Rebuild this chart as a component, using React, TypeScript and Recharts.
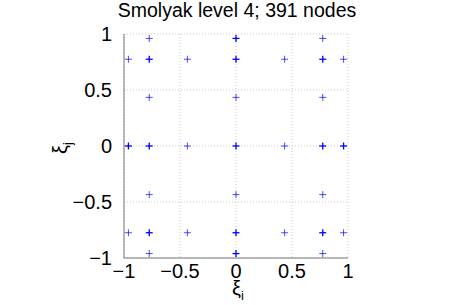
import React from "react";
import {
  ScatterChart,
  Scatter,
  XAxis,
  YAxis,
  CartesianGrid,
  Label,
} from "recharts";

// Gauss-Patterson abscissae seen in the projection
const TICKS = [-1, -0.5, 0, 0.5, 1];

// nodes drawn over several times (look heavier in the picture)
const HEAVY_X = [0, 0, 0.7746, -0.7746, 0.7746, -0.7746, 0, 0, 0.7746, -0.7746, 0, 0.9605, -0.9605];
const HEAVY_Y = [0.9605, -0.9605, 0.7746, 0.7746, -0.7746, -0.7746, 0.7746, -0.7746, 0, 0, 0, 0, 0];

const LIGHT_X = [
  -0.7746, 0.7746, -0.7746, 0.7746,
  -0.9605, 0.9605, -0.4342, 0.4342, -0.9605, 0.9605, -0.4342, 0.4342,
  -0.7746, 0.7746, -0.7746, 0.7746, 0, 0,
  -0.4342, 0.4342,
];
const LIGHT_Y = [
  0.9605, 0.9605, -0.9605, -0.9605,
  0.7746, 0.7746, 0.7746, 0.7746, -0.7746, -0.7746, -0.7746, -0.7746,
  0.4342, 0.4342, -0.4342, -0.4342, 0.4342, -0.4342,
  0, 0,
];

const heavy = HEAVY_X.map((x, i) => ({ x, y: HEAVY_Y[i] }));
const light = LIGHT_X.map((x, i) => ({ x, y: LIGHT_Y[i] }));

const FONT = "'Liberation Sans', Arial, sans-serif";

function Plus(props: { cx?: number; cy?: number; w: number; op: number }) {
  const { cx = 0, cy = 0, w, op } = props;
  const a = 3.5;
  return (
    <g stroke="#0000ff" strokeWidth={w} strokeOpacity={op}>
      <line x1={cx - a} y1={cy} x2={cx + a} y2={cy} />
      <line x1={cx} y1={cy - a} x2={cx} y2={cy + a} />
    </g>
  );
}

const fmt = (v: number) => (v < 0 ? "\u2212" + Math.abs(v) : String(v));

export default function App() {
  return (
    <div style={{ position: "absolute", left: 0, top: 0, width: 457, height: 305, background: "#fff" }}>
      <div
        style={{
          position: "absolute",
          top: -1,
          left: 0,
          width: 474,
          textAlign: "center",
          fontFamily: FONT,
          fontSize: 19.5,
          color: "#000",
        }}
      >
        Smolyak level 4; 391 nodes
      </div>
      <ScatterChart
        width={457}
        height={305}
        margin={{ top: 34, right: 109, bottom: 17, left: 84 }}
      >
        <CartesianGrid stroke="#c8c8c8" strokeDasharray="1 2" />
        <XAxis
          type="number"
          dataKey="x"
          domain={[-1, 1]}
          ticks={TICKS}
          tickFormatter={fmt}
          height={30}
          tickLine={false}
          axisLine={{ stroke: "#777" }}
          tick={{ fill: "#000", fontSize: 20, fontFamily: FONT }}
          tickMargin={0}
        >
          <Label
            content={({ viewBox }: any) => (
              <text x={viewBox.x + viewBox.width / 2 + 2} y={viewBox.y + 37} fontFamily={FONT} fontSize={20} fill="#000" textAnchor="middle">
                ξ<tspan fontSize={13} dy={5}>i</tspan>
              </text>
            )}
          />
        </XAxis>
        <XAxis
          xAxisId="top"
          orientation="top"
          type="number"
          domain={[-1, 1]}
          height={0}
          tick={false}
          tickLine={false}
          axisLine={{ stroke: "#777" }}
        />
        <YAxis
          type="number"
          dataKey="y"
          domain={[-1, 1]}
          ticks={TICKS}
          tickFormatter={fmt}
          width={40}
          tickLine={false}
          axisLine={{ stroke: "#777" }}
          tick={{ fill: "#000", fontSize: 20, fontFamily: FONT }}
          tickMargin={6}
        >
          <Label
            content={({ viewBox }: any) => {
              const cx = 67;
              const cy = viewBox.y + viewBox.height / 2 + 2;
              return (
                <text x={cx} y={cy} fontFamily={FONT} fontSize={20} fill="#000" textAnchor="middle" transform={`rotate(-90 ${cx} ${cy})`}>
                  ξ<tspan fontSize={13} dy={5}>j</tspan>
                </text>
              );
            }}
          />
        </YAxis>
        <YAxis
          yAxisId="right"
          orientation="right"
          type="number"
          domain={[-1, 1]}
          width={0}
          tick={false}
          tickLine={false}
          axisLine={{ stroke: "#777" }}
        />
        <Scatter
          data={light}
          isAnimationActive={false}
          shape={(p: any) => <Plus {...p} w={1} op={0.7} />}
        />
        <Scatter
          data={heavy}
          isAnimationActive={false}
          shape={(p: any) => <Plus {...p} w={1.3} op={1} />}
        />
      </ScatterChart>
    </div>
  );
}
